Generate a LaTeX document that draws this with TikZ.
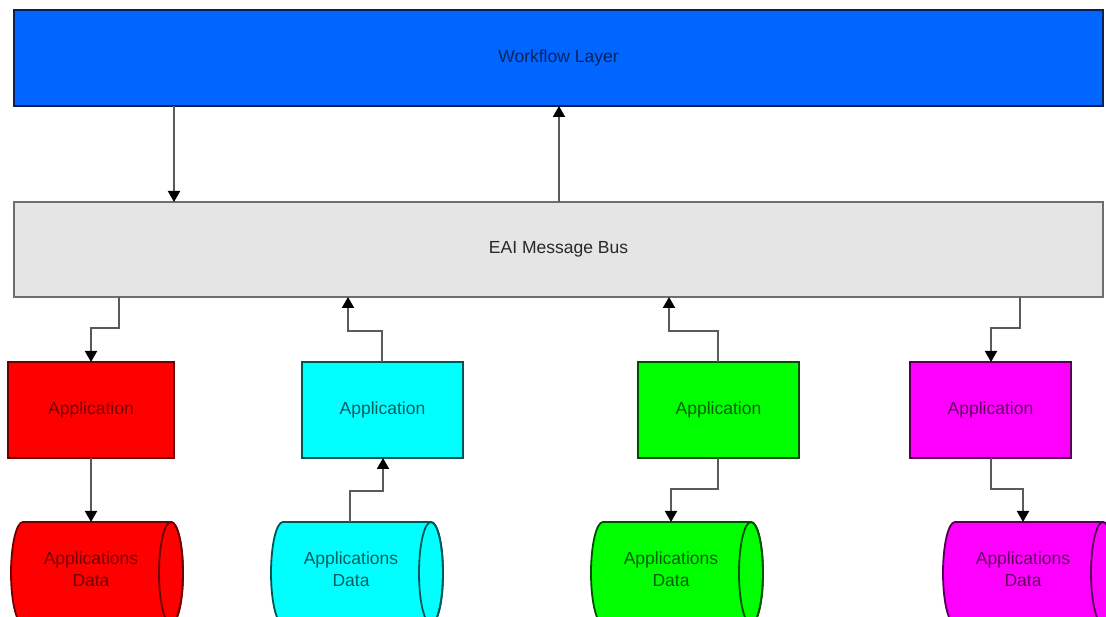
\documentclass[tikz,border=0pt]{standalone}
\usepackage{fontspec}
\setmainfont{Liberation Sans}
\usetikzlibrary{arrows.meta}
\definecolor{wfblue}{RGB}{0,102,255}
\definecolor{wfline}{RGB}{12,32,84}
\definecolor{wftext}{RGB}{12,34,92}
\definecolor{busfill}{RGB}{229,229,229}
\definecolor{busline}{RGB}{110,110,110}
\definecolor{bustext}{RGB}{40,40,40}
\definecolor{cred}{RGB}{255,0,0}
\definecolor{credd}{RGB}{110,0,0}
\definecolor{credt}{RGB}{115,0,0}
\definecolor{ccyan}{RGB}{0,255,255}
\definecolor{ccyand}{RGB}{0,85,85}
\definecolor{ccyant}{RGB}{0,95,95}
\definecolor{cgreen}{RGB}{0,255,0}
\definecolor{cgreend}{RGB}{0,80,0}
\definecolor{cgreent}{RGB}{0,95,0}
\definecolor{cmag}{RGB}{255,0,255}
\definecolor{cmagd}{RGB}{85,0,85}
\definecolor{cmagt}{RGB}{95,0,95}
\definecolor{connline}{RGB}{90,90,90}
\tikzset{
  box/.style={rectangle, inner sep=0pt, outer sep=0pt, line width=2pt,
    font=\fontsize{17.5}{22}\selectfont, align=center},
  conn/.style={draw=connline, line width=2pt,
    -{Triangle[width=12pt,length=11pt,fill=black,color=black]}},
  anchorbox/.style={rectangle, inner sep=0pt, outer sep=0pt, minimum width=148pt, minimum height=102pt},
  cyltext/.style={inner sep=0pt, align=center, font=\fontsize{17.5}{22}\selectfont},
}
\begin{document}
\begin{tikzpicture}[x=1pt,y=1pt]
\useasboundingbox (0,0) rectangle (1106,616);
\clip (0,0) rectangle (1106,616);
\fill[white] (0,0) rectangle (1106,616);

% top layers
\node[box, draw=wfline, fill=wfblue, text=wftext, minimum width=1089pt, minimum height=96pt] (wf) at (558.5,558) {Workflow Layer};
\node[box, draw=busline, fill=busfill, text=bustext, minimum width=1089pt, minimum height=95pt] (bus) at (558.5,366.5) {EAI Message Bus};

% applications
\node[box, draw=credd, fill=cred, text=credt, minimum width=166pt, minimum height=96pt] (appr) at (91,206) {Application};
\node[box, draw=ccyand, fill=ccyan, text=ccyant, minimum width=161pt, minimum height=96pt] (appc) at (382.5,206) {Application};
\node[box, draw=cgreend, fill=cgreen, text=cgreent, minimum width=161pt, minimum height=96pt] (appg) at (718.5,206) {Application};
\node[box, draw=cmagd, fill=cmag, text=cmagt, minimum width=161pt, minimum height=96pt] (appm) at (990.5,206) {Application};

% cylinders (horizontal drums)
\foreach \xl/\fc/\dc in {23/cred/credd, 283/ccyan/ccyand, 603/cgreen/cgreend, 955/cmag/cmagd}{
  \pgfmathsetmacro{\xr}{\xl+148}
  \filldraw[fill=\fc, draw=\dc, line width=1.8pt]
    (\xr,94) -- (\xl,94) arc[start angle=90, end angle=270, x radius=12, y radius=51]
    -- (\xr,-8) arc[start angle=-90, end angle=90, x radius=12, y radius=51] -- cycle;
  \draw[draw=\dc, line width=1.8pt] (\xr,43) ellipse[x radius=12, y radius=51];
}
\node[anchorbox] (datr) at (97,43) {};
\node[anchorbox] (datc) at (357,43) {};
\node[anchorbox] (datg) at (677,43) {};
\node[anchorbox] (datm) at (1029,43) {};
\node[cyltext, text=credt] (datrt) at (91,47) {Applications\\Data};
\node[cyltext, text=ccyant] (datct) at (351,47) {Applications\\Data};
\node[cyltext, text=cgreent] (datgt) at (671,47) {Applications\\Data};
\node[cyltext, text=cmagt] (datmt) at (1023,47) {Applications\\Data};

% connectors between layers
\draw[conn] (174,0 |- wf.south) -- (174,0 |- bus.north);
\draw[conn] (559,0 |- bus.north) -- (559,0 |- wf.south);

% bus <-> applications
\draw[conn] (119,0 |- bus.south) -- (119,288) -- (91,288) -- (91,0 |- appr.north);
\draw[conn] (382,0 |- appc.north) -- (382,285) -- (348,285) -- (348,0 |- bus.south);
\draw[conn] (718,0 |- appg.north) -- (718,285) -- (669,285) -- (669,0 |- bus.south);
\draw[conn] (1020,0 |- bus.south) -- (1020,288) -- (991,288) -- (991,0 |- appm.north);

% applications <-> data
\draw[conn] (91,0 |- appr.south) -- (91,0 |- datr.north);
\draw[conn] (350,0 |- datc.north) -- (350,125) -- (383,125) -- (383,0 |- appc.south);
\draw[conn] (718,0 |- appg.south) -- (718,127) -- (671,127) -- (671,0 |- datg.north);
\draw[conn] (991,0 |- appm.south) -- (991,127) -- (1023,127) -- (1023,0 |- datm.north);
\end{tikzpicture}
\end{document}
